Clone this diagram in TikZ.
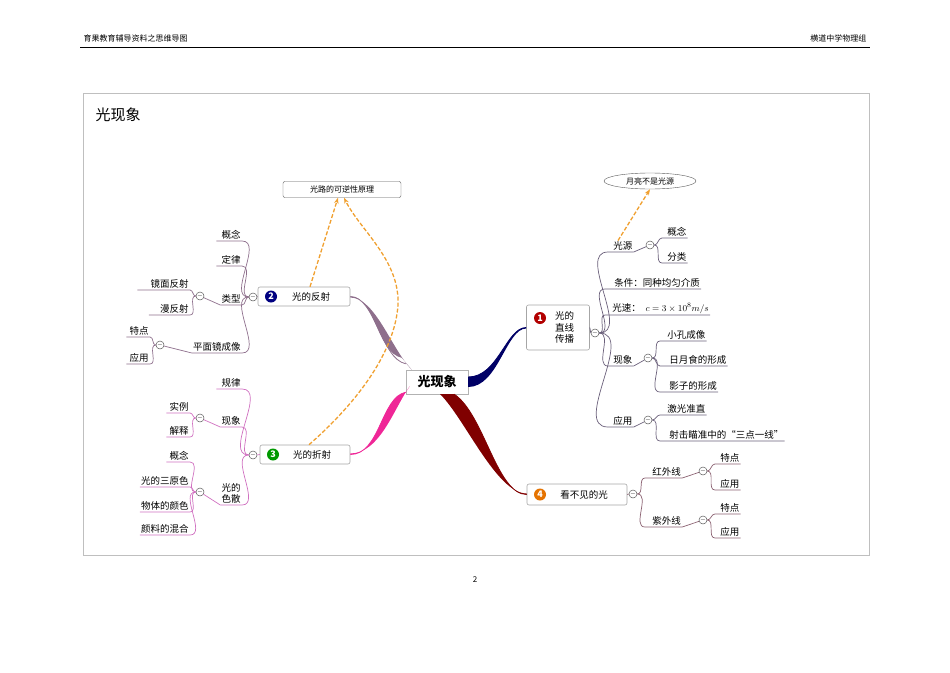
\documentclass[tikz,border=0pt]{standalone}
\usepackage{fontspec}
\setmainfont{Noto Sans CJK SC}
\usetikzlibrary{shapes.geometric,arrows.meta,calc}
\definecolor{bA}{HTML}{6A5F7A}
\definecolor{bB}{HTML}{8E6F8C}
\definecolor{bC}{HTML}{D070C0}
\definecolor{bD}{HTML}{8A6070}
\definecolor{orng}{HTML}{F0A030}
\tikzset{
 leaf/.style={inner sep=1pt,font=\fontsize{9.5}{11}\selectfont,anchor=south west},
 leafl/.style={inner sep=1pt,font=\fontsize{9.5}{11}\selectfont,anchor=south east},
 col/.style={circle,draw=gray!70!black,fill=white,minimum size=8pt,inner sep=0pt,font=\fontsize{6}{6}\selectfont,line width=0.5pt},
 topic/.style={draw=gray!70,rounded corners=2pt,fill=white,inner sep=2pt,font=\fontsize{9.5}{11}\selectfont,line width=0.6pt},
 badge/.style={circle,minimum size=12pt,inner sep=0pt,text=white,font=\bfseries\fontsize{9}{9}\selectfont},
 dsh/.style={orng,dashed,line width=1.3pt,dash pattern=on 4pt off 2pt},
}
\begin{document}
\begin{tikzpicture}[x=1pt,y=-1pt]
\useasboundingbox (0,0) rectangle (950,672);
% page header
\node[anchor=west,font=\fontsize{8}{9}\selectfont] (hl) at (80,38) {育果教育辅导资料之思维导图};
\node[anchor=east,font=\fontsize{8}{9}\selectfont] (hr) at (870,38) {横道中学物理组};
\draw[line width=0.6pt] (80,47) -- (870,47);
\node[font=\fontsize{8}{9}\selectfont] (pg) at (475,580) {2};
\draw[gray!50] (83,93) rectangle (869,555);
\node[anchor=west,font=\fontsize{15}{17}\selectfont] (ttl) at (92,115) {光现象};

% central
\node[draw=gray!60,fill=white,font=\bfseries\fontsize{13}{15}\selectfont,minimum width=62pt,minimum height=24pt,inner sep=1pt] (ctr) at (437,382) {光现象};

% topic boxes
\node[topic,minimum width=63pt,minimum height=45pt,align=left,text width=30pt,font=\fontsize{9.5}{11.5}\selectfont] (t1) at (558,327.5) {\hspace*{12pt}光的\\\hspace*{12pt}直线\\\hspace*{12pt}传播};
\node[badge,fill=red!70!black] (b1) at (540,318) {1};
\node[topic,minimum width=92pt,minimum height=19pt] (t2) at (304,296.5) {\hspace*{14pt}光的反射};
\node[badge,fill=blue!50!black] (b2) at (271,296.5) {2};
\node[topic,minimum width=90pt,minimum height=19pt] (t3) at (305,454.5) {\hspace*{14pt}光的折射};
\node[badge,fill=green!60!black] (b3) at (273,454.5) {3};
\node[topic,minimum width=100pt,minimum height=21pt] (t4) at (577,494.5) {\hspace*{14pt}看不见的光};
\node[badge,fill=orange!90!black] (b4) at (540,494.5) {4};

% main tapered connectors
\fill[blue!40!black] ([yshift=5pt]ctr.east) .. controls +(30,0) and +(-20,0) .. (t1.west) -- ([yshift=-1pt]t1.west) .. controls +(-20,0) and +(30,0) .. ([yshift=-5pt]ctr.east) -- cycle;
\draw[blue!40!black,line width=0.8pt] ([yshift=5pt]ctr.east) .. controls +(30,0) and +(-20,0) .. (t1.west);
\fill[bB] ([xshift=-4pt,yshift=12pt]ctr.north west) .. controls +(-25,-5) and +(25,0) .. (t2.east) -- ([yshift=-1pt]t2.east) .. controls +(25,0) and +(-20,-20) .. ([xshift=6pt]ctr.north west) -- cycle;
\draw[bB,line width=0.8pt] ([xshift=0pt,yshift=6pt]ctr.north west) .. controls +(-25,-5) and +(25,0) .. (t2.east);
\fill[magenta!80!pink] ([yshift=2pt]ctr.south west) .. controls +(-25,5) and +(30,0) .. (t3.east) -- ([yshift=1pt]t3.east) .. controls +(30,0) and +(-15,20) .. ([xshift=4pt,yshift=8pt]ctr.south west) -- cycle;
\draw[magenta!80!pink,line width=0.8pt] ([yshift=2pt]ctr.south west) .. controls +(-25,5) and +(30,0) .. (t3.east);
\fill[red!50!black] ([xshift=-14pt]ctr.south east) .. controls +(30,20) and +(-30,0) .. (t4.west) -- ([yshift=1pt]t4.west) .. controls +(-30,0) and +(25,25) .. ([xshift=-28pt]ctr.south east) -- cycle;
\draw[red!50!black,line width=0.8pt] ([xshift=-14pt]ctr.south east) .. controls +(30,20) and +(-30,0) .. (t4.west);

% ---------- branch 1 ----------
\begin{scope}[bA,line width=0.7pt,every node/.append style={text=black}]
\node[col] (c1) at (595,333) {$-$};
\draw (t1.east) -- (c1.west);
\node[leaf] (gy) at (608,252) {\hspace{4pt}光源};
\node[col] (cgy) at (650,245) {$-$};
\node[leaf] (gy1) at (662,238) {\hspace{4pt}概念\hspace{12pt}};
\node[leaf] (gy2) at (662,263) {\hspace{4pt}分类\hspace{12pt}};
\node[leaf] (tj) at (605,289) {\hspace{8pt}条件：同种均匀介质\hspace{8pt}};
\node[leaf] (gs) at (605,315) {\hspace{6pt}光速： \;$c=3\times10^{8}m/s$\hspace{8pt}};
\node[leaf] (xx) at (608,366) {\hspace{4pt}现象};
\node[col] (cxx) at (648,358) {$-$};
\node[leaf] (xx1) at (660,341) {\hspace{6pt}小孔成像\hspace{6pt}};
\node[leaf] (xx2) at (660,366) {\hspace{8pt}日月食的形成\hspace{8pt}};
\node[leaf] (xx3) at (660,392) {\hspace{8pt}影子的形成\hspace{20pt}};
\node[leaf] (yy) at (608,427) {\hspace{4pt}应用};
\node[col] (cyy) at (648,420) {$-$};
\node[leaf] (yy1) at (660,415) {\hspace{6pt}激光准直\hspace{6pt}};
\node[leaf] (yy2) at (660,441) {\hspace{8pt}射击瞄准中的“三点一线”\hspace{4pt}};
\foreach \n in {gy,tj,gs,xx,yy} \draw (c1.east) to[out=0,in=180] (\n.south west) -- (\n.south east);
\draw (gy.south east) -- (cgy);
\draw (xx.south east) -- (cxx);
\draw (yy.south east) -- (cyy);
\foreach \n in {gy1,gy2} \draw (cgy.east) to[out=0,in=180] (\n.south west) -- (\n.south east);
\foreach \n in {xx1,xx2,xx3} \draw (cxx.east) to[out=0,in=180] (\n.south west) -- (\n.south east);
\foreach \n in {yy1,yy2} \draw (cyy.east) to[out=0,in=180] (\n.south west) -- (\n.south east);
\end{scope}
\node[ellipse,draw=gray!70!black,inner sep=0pt,minimum width=92pt,minimum height=16pt,font=\fontsize{8}{9}\selectfont] (yl) at (650,181) {月亮不是光源};
\draw[dsh,-{Stealth[length=6pt]}] ([xshift=10pt]gy.north west) -- (yl.south);

% ---------- branch 2 ----------
\begin{scope}[bB,line width=0.7pt,every node/.append style={text=black}]
\node[col] (c2) at (253,297) {$-$};
\draw (t2.west) -- (c2.east);
\node[leafl] (f1) at (242,241) {\hspace{4pt}概念\hspace{4pt}};
\node[leafl] (f2) at (242,266) {\hspace{4pt}定律\hspace{4pt}};
\node[leafl] (lx) at (242,305) {类型\hspace{4pt}};
\node[col] (clx) at (200,296) {$-$};
\node[leafl] (lx1) at (190,290) {\hspace{12pt}镜面反射\hspace{4pt}};
\node[leafl] (lx2) at (190,315) {\hspace{10pt}漫反射\hspace{4pt}};
\node[leafl] (pm) at (242,353) {平面镜成像\hspace{4pt}};
\node[col] (cpm) at (160,345) {$-$};
\node[leafl] (pm1) at (150,337) {\hspace{2pt}特点\hspace{10pt}};
\node[leafl] (pm2) at (150,364) {\hspace{2pt}应用\hspace{10pt}};
\foreach \n in {f1,f2,lx,pm} \draw (c2.west) to[out=180,in=0] (\n.south east) -- (\n.south west);
\draw (lx.south west) -- (clx);
\draw (pm.south west) -- (cpm);
\foreach \n in {lx1,lx2} \draw (clx.west) to[out=180,in=0] (\n.south east) -- (\n.south west);
\foreach \n in {pm1,pm2} \draw (cpm.west) to[out=180,in=0] (\n.south east) -- (\n.south west);
\end{scope}
\node[draw=gray!70!black,rounded corners=2pt,inner sep=2pt,minimum width=118pt,minimum height=16pt,font=\fontsize{8}{9}\selectfont] (kn) at (342,189.5) {光路的可逆性原理};
\draw[dsh,-{Stealth[length=6pt]}] ([xshift=6pt]t2.north) -- ([xshift=-4pt]kn.south);
\coordinate (bend) at (398,305);
\draw[dsh,-{Stealth[length=6pt]}] ([xshift=4pt]t3.north) .. controls (360,400) and (395,350) .. (bend) .. controls (400,260) and (360,230) .. ([xshift=2pt]kn.south);

% ---------- branch 3 ----------
\begin{scope}[bC,line width=0.7pt,every node/.append style={text=black}]
\node[col] (c3) at (253,455) {$-$};
\draw (t3.west) -- (c3.east);
\node[leafl] (r1) at (242,389) {\hspace{4pt}规律\hspace{4pt}};
\node[leafl] (r2) at (242,427) {现象\hspace{4pt}};
\node[col] (cr2) at (200,418) {$-$};
\node[leafl] (r21) at (190,413) {\hspace{2pt}实例\hspace{10pt}};
\node[leafl] (r22) at (190,437) {\hspace{2pt}解释\hspace{10pt}};
\node[leafl,align=left] (r3) at (242,505) {光的\\色散};
\node[col] (cr3) at (200,492) {$-$};
\node[leafl] (r31) at (190,462) {\hspace{2pt}概念\hspace{10pt}};
\node[leafl] (r32) at (190,487) {光的三原色};
\node[leafl] (r33) at (190,512) {物体的颜色};
\node[leafl] (r34) at (190,535) {颜料的混合};
\foreach \n in {r1,r2,r3} \draw (c3.west) to[out=180,in=0] (\n.south east) -- (\n.south west);
\draw (r2.south west) -- (cr2);
\draw (r3.south west) -- (cr3);
\foreach \n in {r21,r22} \draw (cr2.west) to[out=180,in=0] (\n.south east) -- (\n.south west);
\foreach \n in {r31,r32,r33,r34} \draw (cr3.west) to[out=180,in=0] (\n.south east) -- (\n.south west);
\end{scope}

% ---------- branch 4 ----------
\begin{scope}[bD,line width=0.7pt,every node/.append style={text=black}]
\node[col] (c4) at (633,494) {$-$};
\draw (t4.east) -- (c4.west);
\node[leaf] (hw) at (645,478) {\hspace{6pt}红外线};
\node[col] (chw) at (703,471) {$-$};
\node[leaf] (hw1) at (715,464) {\hspace{4pt}特点\hspace{8pt}};
\node[leaf] (hw2) at (715,490) {\hspace{4pt}应用\hspace{8pt}};
\node[leaf] (zw) at (645,527) {\hspace{6pt}紫外线};
\node[col] (czw) at (703,520) {$-$};
\node[leaf] (zw1) at (715,514) {\hspace{4pt}特点\hspace{8pt}};
\node[leaf] (zw2) at (715,538) {\hspace{4pt}应用\hspace{8pt}};
\foreach \n in {hw,zw} \draw (c4.east) to[out=0,in=180] (\n.south west) -- (\n.south east);
\draw (hw.south east) -- (chw);
\draw (zw.south east) -- (czw);
\foreach \n in {hw1,hw2} \draw (chw.east) to[out=0,in=180] (\n.south west) -- (\n.south east);
\foreach \n in {zw1,zw2} \draw (czw.east) to[out=0,in=180] (\n.south west) -- (\n.south east);
\end{scope}
\end{tikzpicture}
\end{document}
